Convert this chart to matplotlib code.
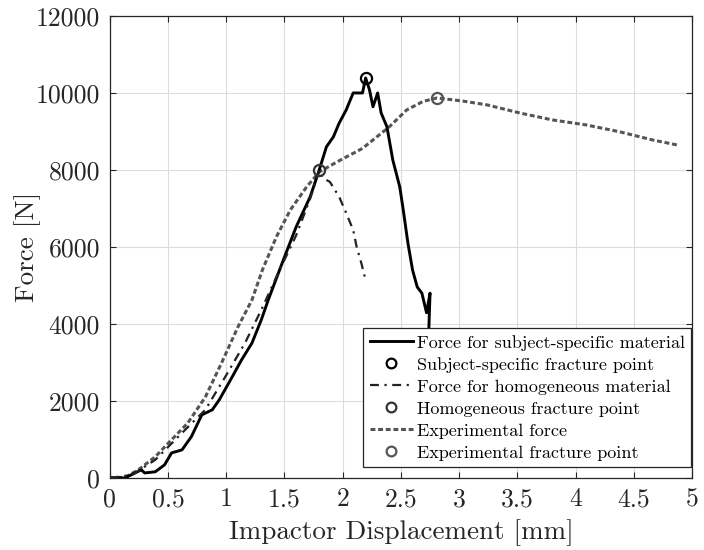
import matplotlib
matplotlib.use("Agg")
import matplotlib.pyplot as plt
from matplotlib.lines import Line2D

plt.rcParams["font.family"] = ["cmr10", "DejaVu Serif"]
plt.rcParams["axes.formatter.use_mathtext"] = True
plt.rcParams["mathtext.fontset"] = "cm"

# --- data ---
# subject-specific material (solid black)
ss_x = [0.0, 0.13, 0.27, 0.30, 0.39, 0.47, 0.53, 0.62, 0.70, 0.79, 0.88, 0.94,
        1.05, 1.13, 1.22, 1.30, 1.36, 1.49, 1.60, 1.72, 1.79, 1.86, 1.92, 1.97,
        2.03, 2.09, 2.17, 2.197, 2.23, 2.26, 2.30, 2.33, 2.38, 2.43, 2.49, 2.52,
        2.56, 2.60, 2.64, 2.68, 2.72, 2.75, 2.74, 2.76]
ss_y = [0, 0, 210, 130, 160, 340, 650, 730, 1070, 1640, 1770, 2030,
        2620, 3060, 3500, 4100, 4620, 5660, 6520, 7300, 7920, 8600, 8860, 9220,
        9560, 10000, 10000, 10390, 10080, 9640, 10000, 9480, 9120, 8260, 7560, 6960,
        6100, 5400, 4960, 4800, 4290, 4800, 3900, 3400]

# homogeneous material (dash-dot)
hm_x = [0.0, 0.19, 0.39, 0.67, 0.82, 0.99, 1.16, 1.30, 1.45, 1.60, 1.72, 1.80,
        1.83, 1.89, 1.97, 2.03, 2.09, 2.12, 2.16, 2.19]
hm_y = [0, 80, 470, 1320, 1770, 2620, 3500, 4360, 5350, 6300, 7250, 8000,
        7790, 7690, 7300, 6880, 6440, 6000, 5580, 5220]

# experimental (dashed gray)
ex_x = [0.0, 0.13, 0.24, 0.39, 0.53, 0.67, 0.82, 0.96, 1.10, 1.22, 1.31, 1.43,
        1.55, 1.69, 1.80, 1.97, 2.17, 2.26, 2.40, 2.55, 2.69, 2.81, 3.03, 3.24,
        3.52, 3.80, 4.09, 4.38, 4.66, 4.87]
ex_y = [0, 20, 200, 550, 990, 1430, 2100, 2990, 3920, 4620, 5400, 6260,
        6960, 7560, 7950, 8240, 8560, 8780, 9120, 9560, 9780, 9870, 9790, 9690,
        9480, 9300, 9170, 8990, 8780, 8650]

frac_ss = (2.197, 10390)
frac_hm = (1.80, 8000)
frac_ex = (2.81, 9870)

x_ticks = [0, 0.5, 1, 1.5, 2, 2.5, 3, 3.5, 4, 4.5, 5]
x_labels = ["0", "0.5", "1", "1.5", "2", "2.5", "3", "3.5", "4", "4.5", "5"]
y_ticks = [0, 2000, 4000, 6000, 8000, 10000, 12000]
y_labels = ["0", "2000", "4000", "6000", "8000", "10000", "12000"]

gray = "#555555"
ink = "#262626"
dashdot = (0, (4, 2.5, 1, 2.5))
dashed = (0, (1.6, 0.9))

fig = plt.figure(figsize=(7.04, 5.5), dpi=100)
ax = fig.add_axes([0.156, 0.131, 0.827, 0.840])

ax.plot(ss_x, ss_y, color="black", lw=2.1, zorder=3)
ax.plot(hm_x, hm_y, color="#222222", lw=1.6, ls=dashdot, zorder=3)
ax.plot(ex_x, ex_y, color=gray, lw=2.2, ls=dashed, zorder=2)

ax.plot(*frac_ss, "o", mfc="none", mec="black", ms=8, mew=1.6, zorder=4)
ax.plot(*frac_hm, "o", mfc="none", mec="#333333", ms=8, mew=1.6, zorder=4)
ax.plot(*frac_ex, "o", mfc="none", mec=gray, ms=8, mew=1.6, zorder=4)

ax.set_xlim(0, 5)
ax.set_ylim(0, 12000)
ax.set_xticks(x_ticks)
ax.set_xticklabels(x_labels)
ax.set_yticks(y_ticks)
ax.set_yticklabels(y_labels)
ax.tick_params(direction="in", top=True, right=True, length=4, width=0.8,
               labelsize=18.5, colors=ink, pad=7)
ax.grid(True, color="#dcdcdc", lw=0.8)
ax.set_axisbelow(True)
for s in ax.spines.values():
    s.set_color(ink)
    s.set_linewidth(0.9)

ax.set_xlabel("Impactor Displacement [mm]", fontsize=19.5, color=ink, labelpad=6)
ax.set_ylabel("Force [N]", fontsize=19.5, color=ink, labelpad=-4)

handles = [
    Line2D([], [], color="black", lw=2.1),
    Line2D([], [], ls="none", marker="o", mfc="none", mec="black", ms=7, mew=1.6),
    Line2D([], [], color="#222222", lw=1.6, ls=dashdot),
    Line2D([], [], ls="none", marker="o", mfc="none", mec="#333333", ms=7, mew=1.6),
    Line2D([], [], color=gray, lw=2.2, ls=dashed),
    Line2D([], [], ls="none", marker="o", mfc="none", mec=gray, ms=7, mew=1.6),
]
labels = [
    "Force for subject-specific material",
    "Subject-specific fracture point",
    "Force for homogeneous material",
    "Homogeneous fracture point",
    "Experimental force",
    "Experimental fracture point",
]
leg = ax.legend(handles, labels, loc="lower right", bbox_to_anchor=(0.998, 0.024),
                fontsize=13, fancybox=False, framealpha=1, edgecolor=ink,
                handlelength=2.4, handletextpad=0.2, labelspacing=0.35,
                borderaxespad=0.0, borderpad=0.35)
leg.get_frame().set_linewidth(0.9)

fig.savefig("out.png", dpi=100)
